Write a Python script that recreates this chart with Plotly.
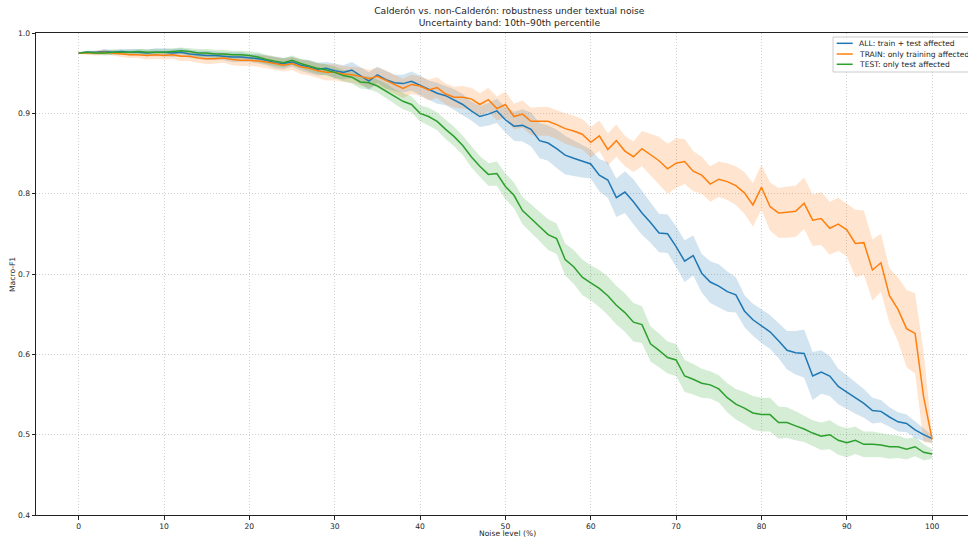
import plotly.graph_objects as go

noise = list(range(0, 101))

all_mean = [0.975,0.976,0.976,0.977,0.976,0.977,0.976,0.976,0.975,0.976,0.976,
            0.975,0.976,0.974,0.973,0.972,0.972,0.971,0.970,0.970,0.969,
            0.968,0.966,0.963,0.962,0.964,0.960,0.958,0.955,0.956,0.953,
            0.951,0.954,0.947,0.940,0.948,0.942,0.938,0.937,0.940,0.935,
            0.929,0.925,0.922,0.917,0.911,0.903,0.896,0.899,0.903,0.892,
            0.884,0.885,0.880,0.866,0.863,0.856,0.848,0.844,0.840,0.837,
            0.823,0.817,0.795,0.802,0.790,0.776,0.764,0.751,0.750,0.734,
            0.716,0.723,0.701,0.690,0.685,0.678,0.674,0.654,0.643,0.635,
            0.628,0.617,0.605,0.602,0.601,0.573,0.578,0.573,0.560,0.553,
            0.546,0.539,0.530,0.529,0.522,0.516,0.514,0.506,0.500,0.495]

train_mean = [0.975,0.975,0.975,0.976,0.975,0.974,0.973,0.973,0.972,0.973,0.972,
              0.973,0.971,0.971,0.969,0.968,0.968,0.969,0.967,0.966,0.966,
              0.965,0.964,0.962,0.960,0.962,0.958,0.956,0.953,0.951,0.951,
              0.949,0.948,0.946,0.943,0.946,0.941,0.936,0.931,0.936,0.934,
              0.929,0.932,0.924,0.920,0.920,0.918,0.911,0.917,0.906,0.911,
              0.896,0.899,0.890,0.890,0.890,0.886,0.881,0.878,0.874,0.864,
              0.872,0.855,0.866,0.853,0.846,0.856,0.848,0.841,0.831,0.838,
              0.840,0.828,0.823,0.812,0.818,0.815,0.810,0.801,0.786,0.808,
              0.784,0.776,0.777,0.778,0.788,0.767,0.769,0.757,0.762,0.755,
              0.738,0.739,0.705,0.714,0.673,0.656,0.632,0.626,0.547,0.494]

test_mean = [0.975,0.976,0.975,0.975,0.976,0.976,0.976,0.977,0.976,0.976,0.976,
             0.977,0.978,0.977,0.975,0.975,0.974,0.974,0.973,0.973,0.972,
             0.970,0.967,0.965,0.963,0.966,0.962,0.959,0.956,0.954,0.951,
             0.947,0.945,0.939,0.938,0.934,0.928,0.921,0.915,0.911,0.900,
             0.896,0.890,0.880,0.871,0.860,0.846,0.834,0.824,0.825,0.809,
             0.798,0.779,0.769,0.759,0.749,0.744,0.718,0.709,0.696,0.689,
             0.682,0.673,0.661,0.652,0.640,0.637,0.613,0.605,0.596,0.593,
             0.573,0.569,0.564,0.562,0.557,0.546,0.538,0.533,0.527,0.525,
             0.525,0.515,0.515,0.511,0.507,0.502,0.498,0.500,0.493,0.490,
             0.493,0.488,0.488,0.487,0.485,0.485,0.482,0.485,0.478,0.476]

# half-width of the 10th-90th percentile band
all_hw = [0.001,0.002,0.002,0.003,0.003,0.003,0.004,0.004,0.004,0.005,0.005,
          0.005,0.005,0.005,0.005,0.006,0.005,0.005,0.006,0.006,0.005,
          0.006,0.006,0.007,0.007,0.006,0.007,0.008,0.008,0.008,0.009,
          0.009,0.010,0.010,0.011,0.010,0.011,0.010,0.011,0.012,0.012,
          0.012,0.013,0.012,0.013,0.013,0.012,0.013,0.014,0.015,0.016,
          0.018,0.020,0.021,0.022,0.022,0.024,0.024,0.022,0.020,0.018,
          0.020,0.022,0.024,0.026,0.028,0.027,0.025,0.024,0.024,0.025,
          0.026,0.025,0.024,0.026,0.027,0.025,0.022,0.020,0.020,0.021,
          0.021,0.022,0.024,0.027,0.030,0.030,0.027,0.025,0.022,0.021,
          0.020,0.018,0.016,0.014,0.012,0.012,0.011,0.010,0.008,0.005]

train_hw = [0.001,0.002,0.003,0.003,0.003,0.004,0.004,0.004,0.005,0.005,0.005,
            0.005,0.006,0.006,0.006,0.007,0.006,0.006,0.007,0.007,0.007,
            0.007,0.008,0.008,0.008,0.008,0.009,0.009,0.009,0.010,0.010,
            0.010,0.010,0.011,0.011,0.011,0.012,0.012,0.012,0.012,0.012,
            0.013,0.013,0.013,0.013,0.014,0.014,0.014,0.015,0.015,0.016,
            0.016,0.017,0.017,0.018,0.018,0.018,0.019,0.019,0.019,0.019,
            0.019,0.020,0.020,0.019,0.019,0.022,0.026,0.030,0.031,0.031,
            0.028,0.025,0.023,0.022,0.022,0.023,0.024,0.026,0.027,0.028,
            0.030,0.031,0.032,0.032,0.032,0.032,0.033,0.033,0.033,0.033,
            0.042,0.040,0.038,0.036,0.034,0.040,0.048,0.050,0.056,0.005]

test_hw = [0.001,0.002,0.002,0.003,0.003,0.003,0.003,0.003,0.004,0.004,0.004,
           0.004,0.004,0.004,0.005,0.005,0.005,0.005,0.005,0.005,0.005,
           0.006,0.006,0.006,0.006,0.006,0.006,0.007,0.007,0.007,0.007,
           0.007,0.008,0.008,0.008,0.008,0.009,0.009,0.010,0.010,0.010,
           0.011,0.011,0.012,0.012,0.012,0.013,0.013,0.014,0.015,0.016,
           0.016,0.017,0.018,0.018,0.019,0.019,0.020,0.021,0.022,0.022,
           0.023,0.024,0.024,0.024,0.024,0.023,0.022,0.021,0.020,0.020,
           0.020,0.019,0.018,0.017,0.017,0.018,0.019,0.020,0.021,0.021,
           0.021,0.020,0.019,0.018,0.016,0.016,0.017,0.018,0.018,0.018,
           0.017,0.016,0.016,0.015,0.015,0.014,0.013,0.012,0.010,0.006]

x_ticks = [0, 10, 20, 30, 40, 50, 60, 70, 80, 90, 100]
y_ticks = [0.4, 0.5, 0.6, 0.7, 0.8, 0.9, 1.0]

labels = ["ALL: train + test affected", "TRAIN: only training affected", "TEST: only test affected"]
colors = ["#1f77b4", "#ff7f0e", "#2ca02c"]
fills = ["rgba(31,119,180,0.2)", "rgba(255,127,14,0.2)", "rgba(44,160,44,0.2)"]
means = [all_mean, train_mean, test_mean]
hws = [all_hw, train_hw, test_hw]

fig = go.Figure()
for mean, hw, fillcol in zip(means, hws, fills):
    upper = [m + h for m, h in zip(mean, hw)]
    lower = [m - h for m, h in zip(mean, hw)]
    fig.add_trace(go.Scatter(x=noise + noise[::-1], y=upper + lower[::-1],
                             fill="toself", fillcolor=fillcol, mode="lines",
                             line=dict(width=0), hoverinfo="skip", showlegend=False))
for name, mean, col in zip(labels, means, colors):
    fig.add_trace(go.Scatter(x=noise, y=mean, mode="lines", name=name,
                             line=dict(color=col, width=1.5), showlegend=False))

font = "DejaVu Sans, sans-serif"
txt = "#262626"
fig.update_layout(
    width=968, height=538,
    margin=dict(l=36, r=0, t=33, b=23),
    paper_bgcolor="white", plot_bgcolor="white",
    font=dict(family=font, size=7.6, color=txt),
    title=dict(text="Calderón vs. non-Calderón: robustness under textual noise<br>Uncertainty band: 10th–90th percentile",
               x=0.5262, xanchor="center", y=0.974, yanchor="top", yref="container",
               font=dict(size=9.2, family=font, color=txt)),
    showlegend=False,
)
grid = dict(showgrid=True, gridcolor="#d0d0d0", griddash="1px,2px", gridwidth=1,
            showline=True, linecolor="#222", linewidth=1, mirror=True,
            ticks="outside", ticklen=3.5, tickcolor="#222", zeroline=False,
            tickfont=dict(size=7.6, family=font, color=txt))
fig.update_xaxes(range=[-5, 104.2], tickvals=x_ticks, **grid)
fig.update_yaxes(range=[0.4, 1.0], tickvals=y_ticks, tickformat=".1f", **grid)

fig.add_annotation(text="Noise level (%)", xref="paper", yref="paper", x=0.5064, y=-0.0394,
                   xanchor="center", yanchor="middle", showarrow=False,
                   font=dict(size=7.6, family=font, color=txt))
fig.add_annotation(text="Macro-F1", xref="paper", yref="paper", x=-0.0258, y=0.5,
                   xanchor="center", yanchor="middle", textangle=-90, showarrow=False,
                   font=dict(size=7.6, family=font, color=txt))

# legend box (drawn manually to match the compact matplotlib legend)
fig.add_shape(type="rect", xref="paper", yref="paper", x0=0.8552, x1=1.03, y0=0.9191, y1=0.9917,
              line=dict(color="#cccccc", width=1), fillcolor="rgba(255,255,255,0.8)", layer="above")
leg_y = [0.9786, 0.9564, 0.9351]
for name, col, yy in zip(labels, colors, leg_y):
    fig.add_shape(type="line", xref="paper", yref="paper", x0=0.8591, x1=0.8763, y0=yy, y1=yy,
                  line=dict(color=col, width=1.5), layer="above")
    fig.add_annotation(text=name, xref="paper", yref="paper", x=0.8812, y=yy,
                       xanchor="left", yanchor="middle", showarrow=False,
                       font=dict(size=7.6, family=font, color=txt))

fig.write_html("out.html", config={"displayModeBar": False},
               post_script="document.body.style.margin='0';document.body.style.overflow='hidden';")
